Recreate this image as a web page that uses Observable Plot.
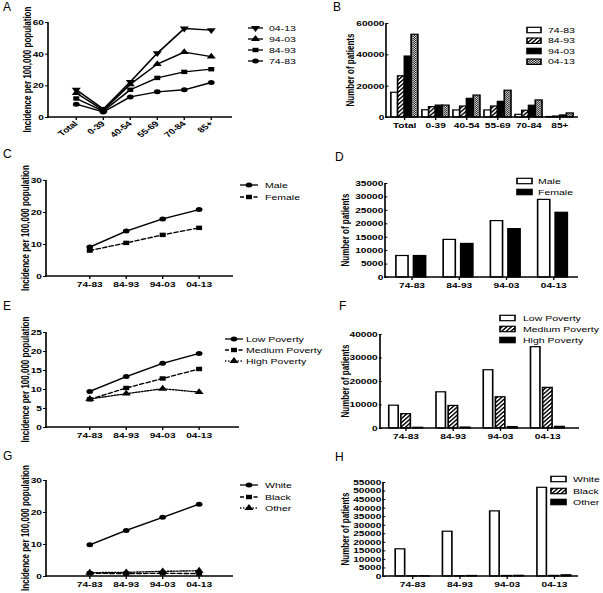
<!DOCTYPE html>
<html><head><meta charset="utf-8">
<script src="https://cdn.jsdelivr.net/npm/d3@7"></script>
<script src="https://cdn.jsdelivr.net/npm/@observablehq/plot@0.6"></script>
<style>
body{margin:0;background:#fff;}
#fig{position:relative;width:603px;height:593px;overflow:hidden;background:#fff;font-family:"Liberation Sans",Arial,Helvetica,sans-serif;}
.letter{position:absolute;font-size:12px;line-height:1;color:#000;}
.wrap{position:absolute;transform-origin:0 0;}
.wrap svg{position:absolute;left:0;top:0;overflow:visible;}
</style></head><body>
<svg width="0" height="0" style="position:absolute">
<defs>
<pattern id="hatch" patternUnits="userSpaceOnUse" width="2.6" height="2.6" patternTransform="rotate(40)">
<rect width="2.6" height="2.6" fill="white"/><rect width="1.2" height="2.6" fill="black"/>
</pattern>
<pattern id="checker" patternUnits="userSpaceOnUse" width="2" height="2">
<rect width="2" height="2" fill="white"/><rect width="1" height="1" fill="black"/><rect x="1" y="1" width="1" height="1" fill="black"/>
</pattern>
</defs></svg>
<div id="fig"></div>
<script>
// ---------- DATA ----------
const ageGroups = ["Total", "0-39", "40-54", "55-69", "70-84", "85+"];
const periods = ["74-83", "84-93", "94-03", "04-13"];

// A: incidence per 100,000 by age group
const incAge_0413 = [17.5, 5.3, 22.5, 40.6, 56.2, 55.2];
const incAge_9403 = [15.4, 4.5, 21.0, 33.7, 41.3, 38.5];
const incAge_8493 = [12.0, 4.0, 17.5, 25.0, 28.8, 30.5];
const incAge_7483 = [8.4, 3.5, 13.0, 16.2, 17.5, 22.1];

// B: number of patients by age group
const patAge_7483 = [15800, 4600, 4500, 4500, 1700, 300];
const patAge_8493 = [26300, 6600, 7000, 7000, 4300, 600];
const patAge_9403 = [38900, 7600, 11900, 10000, 7500, 1300];
const patAge_0413 = [52800, 7600, 14000, 17100, 10900, 2600];

// C / D: sex
const sexes = ["Male", "Female"];
const incMale = [9.2, 14.2, 18.0, 20.9];
const incFemale = [8.1, 10.5, 13.0, 15.2];
const patMale = [8000, 14000, 21000, 28900];
const patFemale = [8000, 12500, 18000, 24100];

// E / F: poverty
const povertyLevels = ["Low Poverty", "Medium Poverty", "High Poverty"];
const incLowPov = [9.5, 13.4, 16.9, 19.5];
const incMedPov = [7.4, 10.4, 12.9, 15.4];
const incHighPov = [7.5, 8.9, 10.2, 9.3];
const patLowPov = [9700, 15400, 24800, 34600];
const patMedPov = [6100, 9600, 13300, 17300];
const patHighPov = [300, 400, 600, 700];

// G / H: race
const races = ["White", "Black", "Other"];
const incWhite = [9.9, 14.4, 18.5, 22.6];
const incBlack = [1.0, 0.9, 1.0, 0.9];
const incOther = [1.2, 1.3, 1.6, 1.8];
const patWhite = [15900, 26200, 38100, 51900];
const patBlack = [100, 150, 300, 350];
const patOther = [100, 300, 400, 700];

// tick values
const ticksA = [0, 20, 40, 60];
const ticksB = [0, 20000, 40000, 60000];
const ticksC = [0, 10, 20, 30];
const ticksD = [0, 5000, 10000, 15000, 20000, 25000, 30000, 35000];
const ticksE = [0, 5, 10, 15, 20, 25];
const ticksF = [0, 10000, 20000, 30000, 40000];
const ticksG = [0, 10, 20, 30];
const ticksH = [0, 5000, 10000, 15000, 20000, 25000, 30000, 35000, 40000, 45000, 50000, 55000];

const incTitle = "Incidence per 100,000 population";
const patTitle = "Number of patients";

// ---------- DRAWING ----------
const SX = 1.35;
const FONT = '"Liberation Sans", Arial, Helvetica, sans-serif';
const fig = document.getElementById("fig");
const symTypes = {circle: d3.symbolCircle, square: d3.symbolSquare, triangle: d3.symbolTriangle};
const R = 2.5;

function letter(t, x, y) {
  const d = document.createElement("div");
  d.className = "letter"; d.textContent = t;
  d.style.left = x + "px"; d.style.top = y + "px";
  fig.appendChild(d);
}
function makeWrap(cfg) {
  const d = document.createElement("div");
  d.className = "wrap";
  d.style.left = cfg.ox + "px"; d.style.top = cfg.oy + "px";
  d.style.width = (cfg.w / SX) + "px"; d.style.height = cfg.h + "px";
  d.style.transform = `scaleX(${SX})`;
  fig.appendChild(d);
  return d;
}
const plotStyle = {fontFamily: FONT, fontSize: "7.5px", fontWeight: "bold", overflow: "visible", background: "none", color: "black"};

function decorate(wrap, cfg, W, yScale, ml) {
  const u = x => (x - cfg.ox) / SX;
  const svg = d3.select(wrap).append("svg").attr("width", W).attr("height", cfg.h);
  const y0 = yScale(0), y1 = yScale(cfg.yMax);
  svg.append("line").attr("x1", ml).attr("x2", ml).attr("y1", y0 + 0.7).attr("y2", y1)
    .attr("stroke", "black").attr("stroke-width", 1.2);
  svg.append("line").attr("x1", ml - 0.6).attr("x2", u(cfg.axisEnd)).attr("y1", y0).attr("y2", y0)
    .attr("stroke", "black").attr("stroke-width", 1.4);
  svg.append("text")
    .attr("transform", `translate(${u(cfg.titleX)},${(y0 + y1) / 2}) rotate(-90)`)
    .attr("text-anchor", "middle").attr("dominant-baseline", "central")
    .style("font-family", FONT).style("font-size", "8px").style("font-weight", "bold")
    .text(cfg.title);
  const lg = cfg.legend;
  cfg.series.forEach((s, i) => {
    const y = lg.ys[i] - cfg.oy;
    if (lg.kind === "line") {
      svg.append("line").attr("x1", u(lg.x1)).attr("x2", u(lg.x2)).attr("y1", y).attr("y2", y)
        .attr("stroke", "black").attr("stroke-width", 1.3).attr("stroke-dasharray", s.dash || null);
      svg.append("path").attr("d", d3.symbol(symTypes[s.symbol], Math.PI * R * R)())
        .attr("transform", `translate(${u((lg.x1 + lg.x2) / 2)},${y}) rotate(${s.rotate || 0})`)
        .attr("fill", "black");
    } else {
      svg.append("rect").attr("x", u(lg.x1)).attr("width", u(lg.x2) - u(lg.x1))
        .attr("y", y - 2.7).attr("height", 5.4)
        .attr("fill", s.fill).attr("stroke", "black").attr("stroke-width", 1.2);
    }
    svg.append("text").attr("x", u(lg.tx)).attr("y", y).attr("dominant-baseline", "central")
      .style("font-family", FONT).style("font-size", "7.8px").text(s.name);
  });
}

function linePanel(cfg) {
  const wrap = makeWrap(cfg);
  const W = cfg.w / SX;
  const u = x => (x - cfg.ox) / SX;
  const ml = u(cfg.axisX);
  const marks = [];
  for (const s of cfg.series) {
    const rows = cfg.cats.map((c, i) => ({cat: c, value: s.values[i]}));
    marks.push(Plot.line(rows, {x: "cat", y: "value", stroke: "black", strokeWidth: 1.35, strokeDasharray: s.dash}));
    marks.push(Plot.dot(rows, {x: "cat", y: "value", symbol: s.symbol, rotate: s.rotate || 0, r: R, fill: "black", stroke: "none"}));
  }
  const plot = Plot.plot({
    width: W, height: cfg.h,
    marginLeft: ml, marginRight: W - u(cfg.axisEnd),
    marginTop: cfg.yTopPx - cfg.oy, marginBottom: cfg.oy + cfg.h - cfg.yZeroPx,
    style: plotStyle,
    x: {type: "point", domain: cfg.cats, range: [u(cfg.xFirst), u(cfg.xLast)], label: null,
        tickSize: 3, tickPadding: 2, tickRotate: cfg.tickRotate || 0},
    y: {domain: [0, cfg.yMax], ticks: cfg.yTicks, tickFormat: d3.format("d"), tickSize: 2.2, tickPadding: 1.3, label: null},
    marks
  });
  wrap.appendChild(plot);
  decorate(wrap, cfg, W, plot.scale("y").apply, ml);
}

function barPanel(cfg) {
  const wrap = makeWrap(cfg);
  const W = cfg.w / SX;
  const u = x => (x - cfg.ox) / SX;
  const ml = u(cfg.axisX), mr = W - u(cfg.fxEnd);
  const n = cfg.cats.length;
  const step = (W - ml - mr) / (n - cfg.pi + 2 * cfg.po);
  const offset = cfg.po * step;
  const marks = cfg.series.map(s => Plot.barY(
    cfg.cats.map((c, i) => ({cat: c, series: s.name, value: s.values[i]})),
    {fx: "cat", x: "series", y: "value", fill: s.fill, stroke: "black", strokeWidth: 1.2}));
  marks.push(Plot.axisY({ticks: cfg.yTicks, tickFormat: d3.format("d"), tickSize: 2.2, tickPadding: 1.3, dx: -offset, label: null}));
  const plot = Plot.plot({
    width: W, height: cfg.h,
    marginLeft: ml, marginRight: mr,
    marginTop: cfg.yTopPx - cfg.oy, marginBottom: cfg.oy + cfg.h - cfg.yZeroPx,
    style: plotStyle,
    fx: {domain: cfg.cats, paddingInner: cfg.pi, paddingOuter: cfg.po, axis: "bottom", tickSize: 3, tickPadding: 2, label: null},
    x: {domain: cfg.series.map(s => s.name), axis: null, paddingInner: cfg.inner, paddingOuter: 0},
    y: {domain: [0, cfg.yMax], label: null},
    marks
  });
  wrap.appendChild(plot);
  decorate(wrap, cfg, W, plot.scale("y").apply, ml);
}

// A
linePanel({ox: 0, oy: 0, w: 300, h: 140, axisX: 48, axisEnd: 232, yTopPx: 22, yZeroPx: 117,
  xFirst: 62, xLast: 224, cats: ageGroups, yMax: 60, yTicks: ticksA, tickRotate: -45,
  title: incTitle, titleX: 27,
  series: [
    {name: periods[3], values: incAge_0413, symbol: "triangle", rotate: 180},
    {name: periods[2], values: incAge_9403, symbol: "triangle"},
    {name: periods[1], values: incAge_8493, symbol: "square"},
    {name: periods[0], values: incAge_7483, symbol: "circle"}],
  legend: {kind: "line", x1: 248, x2: 263, tx: 269, ys: [28, 39, 50, 61]}});

// B
barPanel({ox: 300, oy: 0, w: 303, h: 140, axisX: 386, fxEnd: 578, axisEnd: 578, yTopPx: 23, yZeroPx: 117,
  cats: ageGroups, yMax: 60000, yTicks: ticksB, pi: 0.125, po: 0.0625, inner: 0.08,
  title: patTitle, titleX: 350,
  series: [
    {name: periods[0], values: patAge_7483, fill: "white"},
    {name: periods[1], values: patAge_8493, fill: "url(#hatch)"},
    {name: periods[2], values: patAge_9403, fill: "black"},
    {name: periods[3], values: patAge_0413, fill: "url(#checker)"}],
  legend: {kind: "box", x1: 527, x2: 541, tx: 548, ys: [30, 40.7, 51, 61.7]}});

// C
linePanel({ox: 0, oy: 140, w: 300, h: 150, axisX: 46, axisEnd: 233, yTopPx: 180, yZeroPx: 276,
  xFirst: 70, xLast: 217, cats: periods, yMax: 30, yTicks: ticksC,
  title: incTitle, titleX: 25.5,
  series: [
    {name: sexes[0], values: incMale, symbol: "circle"},
    {name: sexes[1], values: incFemale, symbol: "square", dash: "3,2"}],
  legend: {kind: "line", x1: 240, x2: 258, tx: 265, ys: [185, 197]}});

// D
barPanel({ox: 300, oy: 140, w: 303, h: 150, axisX: 385, fxEnd: 578, axisEnd: 578, yTopPx: 183, yZeroPx: 277,
  cats: periods, yMax: 35000, yTicks: ticksD, pi: 0.35, po: 0.175, inner: 0.28,
  title: patTitle, titleX: 345,
  series: [
    {name: sexes[0], values: patMale, fill: "white"},
    {name: sexes[1], values: patFemale, fill: "black"}],
  legend: {kind: "box", x1: 517, x2: 532, tx: 538, ys: [181, 192]}});

// E
linePanel({ox: 0, oy: 290, w: 300, h: 150, axisX: 46, axisEnd: 239, yTopPx: 332, yZeroPx: 427,
  xFirst: 70, xLast: 217, cats: periods, yMax: 25, yTicks: ticksE,
  title: incTitle, titleX: 25.5,
  series: [
    {name: povertyLevels[0], values: incLowPov, symbol: "circle"},
    {name: povertyLevels[1], values: incMedPov, symbol: "square", dash: "3,2"},
    {name: povertyLevels[2], values: incHighPov, symbol: "triangle", dash: "1,1.3"}],
  legend: {kind: "line", x1: 225, x2: 243, tx: 246, ys: [339, 350, 361]}});

// F
barPanel({ox: 300, oy: 290, w: 303, h: 150, axisX: 380, fxEnd: 572, axisEnd: 579, yTopPx: 334, yZeroPx: 428,
  cats: periods, yMax: 40000, yTicks: ticksF, pi: 0.25, po: 0.125, inner: 0.23,
  title: patTitle, titleX: 345,
  series: [
    {name: povertyLevels[0], values: patLowPov, fill: "white"},
    {name: povertyLevels[1], values: patMedPov, fill: "url(#hatch)"},
    {name: povertyLevels[2], values: patHighPov, fill: "black"}],
  legend: {kind: "box", x1: 500, x2: 515, tx: 523, ys: [318, 329, 340]}});

// G
linePanel({ox: 0, oy: 440, w: 300, h: 153, axisX: 46, axisEnd: 233, yTopPx: 480, yZeroPx: 576,
  xFirst: 70, xLast: 217, cats: periods, yMax: 30, yTicks: ticksG,
  title: incTitle, titleX: 25.5,
  series: [
    {name: races[0], values: incWhite, symbol: "circle"},
    {name: races[1], values: incBlack, symbol: "square", dash: "3,2"},
    {name: races[2], values: incOther, symbol: "triangle", dash: "1,1.3"}],
  legend: {kind: "line", x1: 240, x2: 258, tx: 265, ys: [485, 497, 508]}});

// H
barPanel({ox: 300, oy: 440, w: 303, h: 153, axisX: 383, fxEnd: 582, axisEnd: 578, yTopPx: 482, yZeroPx: 576,
  cats: periods, yMax: 55000, yTicks: ticksH, pi: 0.255, po: 0.19, inner: 0.23,
  title: patTitle, titleX: 345,
  series: [
    {name: races[0], values: patWhite, fill: "white"},
    {name: races[1], values: patBlack, fill: "url(#hatch)"},
    {name: races[2], values: patOther, fill: "black"}],
  legend: {kind: "box", x1: 551, x2: 566, tx: 573, ys: [479, 491, 502]}});

// panel letters
letter("A", 3, 1); letter("B", 333, 1);
letter("C", 3, 148); letter("D", 335, 151);
letter("E", 3, 300); letter("F", 339, 300);
letter("G", 3, 450); letter("H", 335, 451);
</script>
</body></html>
